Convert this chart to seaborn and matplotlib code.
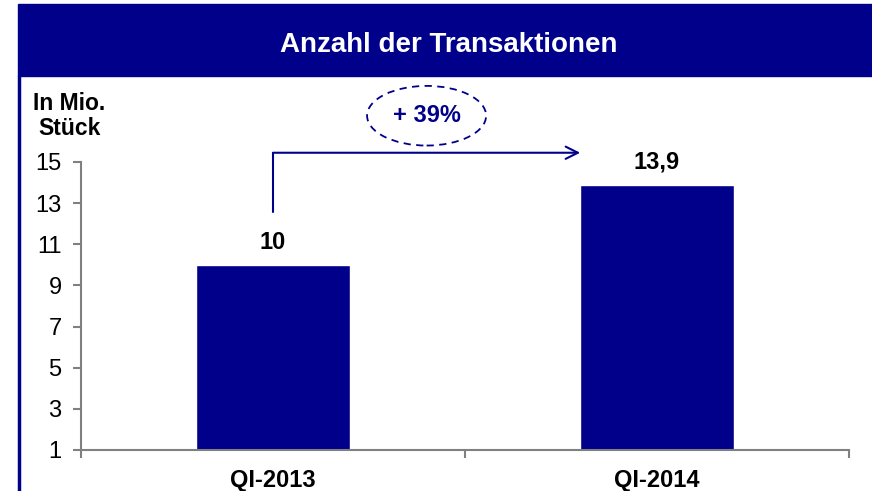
import matplotlib
matplotlib.use("Agg")
import matplotlib.pyplot as plt
import seaborn as sns
import pandas as pd
from matplotlib.patches import Rectangle, Ellipse

# Daten
quartale = ["QI-2013", "QI-2014"]
transaktionen = [10.0, 13.9]
wert_labels = ["10", "13,9"]
y_ticks = [1, 3, 5, 7, 9, 11, 13, 15]
zuwachs = "+ 39%"

NAVY = "#00008B"
GRAU = "#808080"

sns.set_theme(style="white")
plt.rcParams["font.family"] = ["Liberation Sans", "DejaVu Sans"]

df = pd.DataFrame({"quartal": quartale, "wert": transaktionen})

fig = plt.figure(figsize=(8.72, 4.91), dpi=100)

# Titelbalken + linker Rahmen
fig.patches.append(Rectangle((18 / 872, 1 - 76 / 491), 1, 72 / 491,
                             transform=fig.transFigure, color=NAVY, zorder=0))
fig.lines.append(plt.Line2D([19 / 872, 19 / 872], [0, 1 - 76 / 491],
                            transform=fig.transFigure, color=NAVY, lw=2.5))
fig.text(449 / 872, 1 - 45 / 491, "Anzahl der Transaktionen", color="white",
         fontsize=20, fontweight="bold", ha="center", va="center")

ax = fig.add_axes([81 / 872, 1 - 450 / 491, 768 / 872, 288 / 491])
sns.barplot(data=df, x="quartal", y="wert", color=NAVY, width=0.4,
            saturation=1, ax=ax, order=quartale)

ax.set_xlim(-0.5, 1.5)
ax.set_ylim(1, 15)
ax.set_yticks(y_ticks)
ax.set_xlabel("")
ax.set_ylabel("")
for s in ["top", "right"]:
    ax.spines[s].set_visible(False)
for s in ["left", "bottom"]:
    ax.spines[s].set_color(GRAU)
    ax.spines[s].set_linewidth(1.5)

ax.set_xticks([-0.5, 0.5, 1.5], minor=True)
ax.tick_params(axis="x", which="major", bottom=False, length=0, labelsize=17,
               pad=14, labelcolor="black")
ax.tick_params(axis="x", which="minor", bottom=True, length=6, width=1.5,
               color=GRAU, direction="out")
ax.tick_params(axis="y", left=True, length=6, width=1.5, color=GRAU,
               direction="out", labelsize=17, pad=8, labelcolor="black")
for lbl in ax.get_xticklabels():
    lbl.set_fontweight("bold")

# Wertbeschriftungen
for i, (v, t) in enumerate(zip(transaktionen, wert_labels)):
    ax.text(i, v + 0.55, t, ha="center", va="bottom", fontsize=17,
            fontweight="bold", color="black")

ax.text(-0.53, 16.05, "In Mio.\nStück", transform=ax.transData, ha="center",
        va="bottom", fontsize=16.5, fontweight="bold", clip_on=False,
        linespacing=1.15, color="black", multialignment="center")

# Pfeil
y_pfeil = 15.45
ax.plot([0, 0], [transaktionen[0] + 2.55, y_pfeil], color=NAVY, lw=1.5,
        clip_on=False)
ax.annotate("", xy=(0.8, y_pfeil), xytext=(0, y_pfeil),
            arrowprops=dict(arrowstyle="->", color=NAVY, lw=1.5,
                            mutation_scale=22, shrinkA=0, shrinkB=0),
            annotation_clip=False)

ell = Ellipse((0.40, 17.25), 0.31, 2.9, fill=False, edgecolor=NAVY,
              lw=1.3, ls=(0, (4, 3)), clip_on=False)
ax.add_patch(ell)
ax.text(0.40, 17.25, zuwachs, ha="center", va="center", fontsize=17,
        fontweight="bold", color=NAVY)

fig.savefig("out.png", dpi=100)
